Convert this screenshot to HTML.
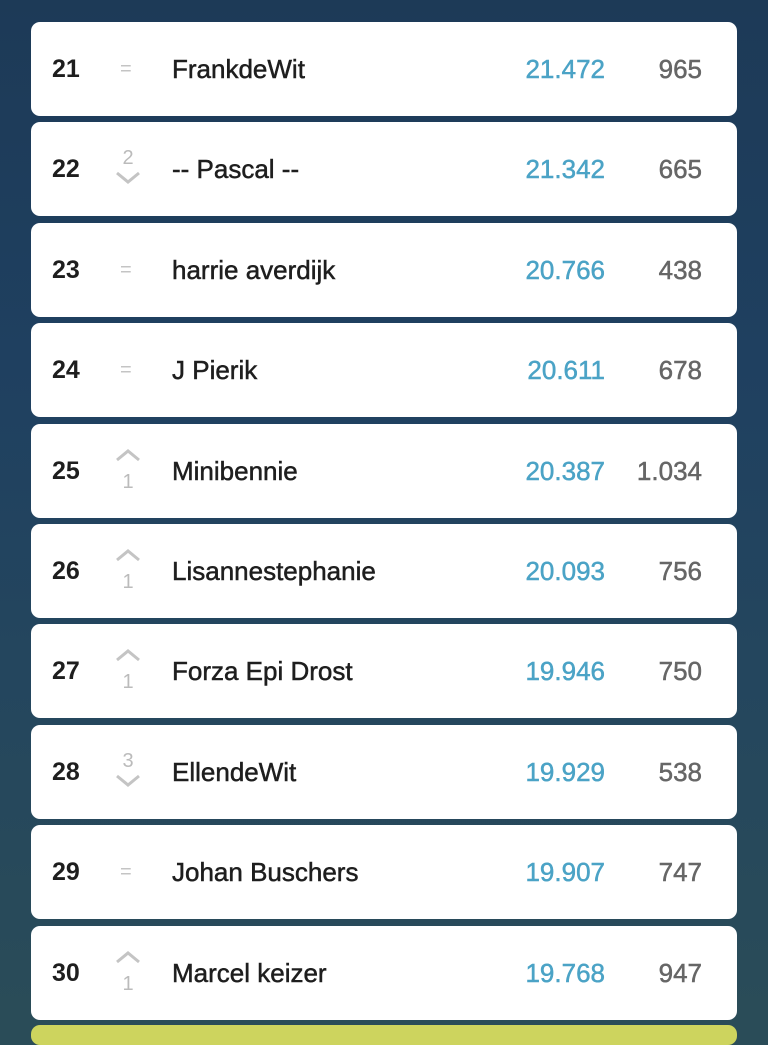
<!DOCTYPE html>
<html><head><style>
html,body{margin:0;padding:0;background:#2a4c58}
body{width:768px;height:1028px;overflow:hidden;position:relative;
background:linear-gradient(180deg,#1d3a57 0%,#1f4060 35%,#24465e 65%,#2a4c58 100%);
font-family:"Liberation Sans",sans-serif;}
.card{position:absolute;left:31px;width:706px;height:94px;background:#fff;border-radius:9px;}
.r{position:absolute;left:21px;top:0;line-height:94px;font-size:25px;font-weight:bold;color:#1e1e1e}
.n,.s,.c{-webkit-text-stroke:0.5px currentColor}
.n{position:absolute;left:141px;top:0;line-height:94px;font-size:26px;color:#1e1e1e}
.s{position:absolute;right:132px;top:0;line-height:94px;font-size:26px;color:#4ba3c6}
.c{position:absolute;right:35px;top:0;line-height:94px;font-size:26px;color:#666}
.eq{position:absolute;left:89px;top:0;line-height:94px;font-size:20px;color:#c4c4c4}
.ind{position:absolute;left:82px;top:24px;width:30px;height:46px}
.bottom{position:absolute;left:31px;top:1025px;width:706px;height:20px;background:#cdd45e;border-radius:9px}
</style></head><body>

<div class="card" style="top:22px"><div class="r">21</div><div class="eq">=</div><div class="n">FrankdeWit</div><div class="s">21.472</div><div class="c">965</div></div>

<div class="card" style="top:122px"><div class="r">22</div><svg class="ind" viewBox="0 0 30 46"><text x="15" y="18" font-size="20" fill="#bbb" text-anchor="middle" font-family="Liberation Sans">2</text><polyline points="4,27 15,36 26,27" fill="none" stroke="#c4c4c4" stroke-width="3"/></svg><div class="n">-- Pascal --</div><div class="s">21.342</div><div class="c">665</div></div>

<div class="card" style="top:223px"><div class="r">23</div><div class="eq">=</div><div class="n">harrie averdijk</div><div class="s">20.766</div><div class="c">438</div></div>

<div class="card" style="top:323px"><div class="r">24</div><div class="eq">=</div><div class="n">J Pierik</div><div class="s">20.611</div><div class="c">678</div></div>

<div class="card" style="top:424px"><div class="r">25</div><svg class="ind" viewBox="0 0 30 46"><polyline points="4,12 15,3 26,12" fill="none" stroke="#c4c4c4" stroke-width="3"/><text x="15" y="40" font-size="20" fill="#bbb" text-anchor="middle" font-family="Liberation Sans">1</text></svg><div class="n">Minibennie</div><div class="s">20.387</div><div class="c">1.034</div></div>

<div class="card" style="top:524px"><div class="r">26</div><svg class="ind" viewBox="0 0 30 46"><polyline points="4,12 15,3 26,12" fill="none" stroke="#c4c4c4" stroke-width="3"/><text x="15" y="40" font-size="20" fill="#bbb" text-anchor="middle" font-family="Liberation Sans">1</text></svg><div class="n">Lisannestephanie</div><div class="s">20.093</div><div class="c">756</div></div>

<div class="card" style="top:624px"><div class="r">27</div><svg class="ind" viewBox="0 0 30 46"><polyline points="4,12 15,3 26,12" fill="none" stroke="#c4c4c4" stroke-width="3"/><text x="15" y="40" font-size="20" fill="#bbb" text-anchor="middle" font-family="Liberation Sans">1</text></svg><div class="n">Forza Epi Drost</div><div class="s">19.946</div><div class="c">750</div></div>

<div class="card" style="top:725px"><div class="r">28</div><svg class="ind" viewBox="0 0 30 46"><text x="15" y="18" font-size="20" fill="#bbb" text-anchor="middle" font-family="Liberation Sans">3</text><polyline points="4,27 15,36 26,27" fill="none" stroke="#c4c4c4" stroke-width="3"/></svg><div class="n">EllendeWit</div><div class="s">19.929</div><div class="c">538</div></div>

<div class="card" style="top:825px"><div class="r">29</div><div class="eq">=</div><div class="n">Johan Buschers</div><div class="s">19.907</div><div class="c">747</div></div>

<div class="card" style="top:926px"><div class="r">30</div><svg class="ind" viewBox="0 0 30 46"><polyline points="4,12 15,3 26,12" fill="none" stroke="#c4c4c4" stroke-width="3"/><text x="15" y="40" font-size="20" fill="#bbb" text-anchor="middle" font-family="Liberation Sans">1</text></svg><div class="n">Marcel keizer</div><div class="s">19.768</div><div class="c">947</div></div>

<div class="bottom"></div>
</body></html>
